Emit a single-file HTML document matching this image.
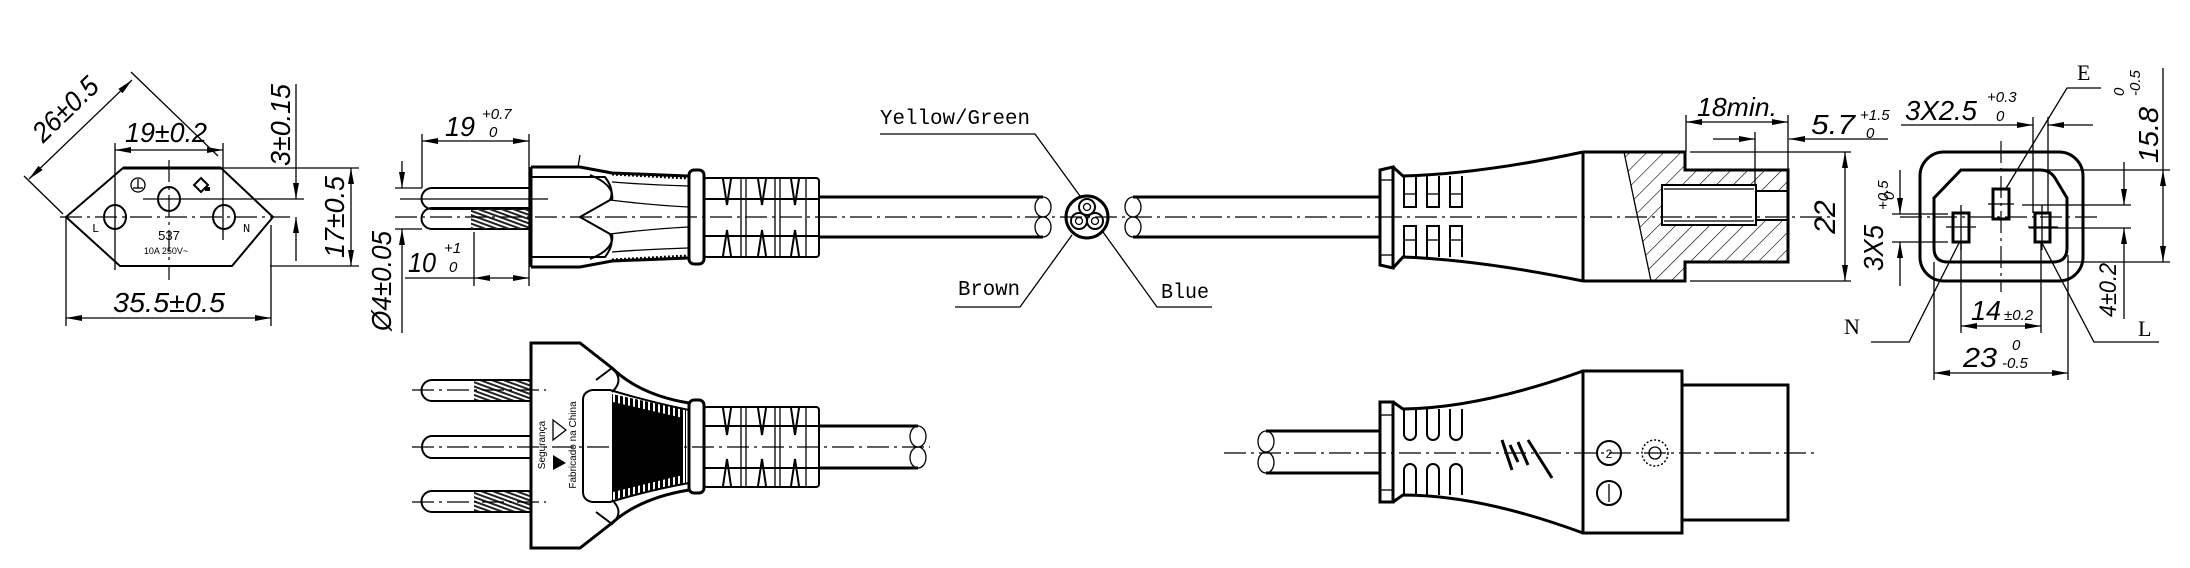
<!DOCTYPE html>
<html><head><meta charset="utf-8"><style>
html,body{margin:0;padding:0;background:#fff;}
svg{display:block}
.t{stroke:#000;stroke-width:1.3;fill:none}
.k{stroke:#000;stroke-width:3;fill:none}
.m{stroke:#000;stroke-width:2;fill:none}
.c{stroke:#000;stroke-width:1.2;fill:none;stroke-dasharray:22 5 3 5}
.d{font-family:"Liberation Sans",sans-serif;font-style:italic;fill:#000}
.s{font-family:"Liberation Sans",sans-serif;font-style:italic;fill:#000;font-size:15px}
.l{font-family:"Liberation Mono",monospace;fill:#000;font-size:21px}
</style></head><body>
<svg width="2190" height="568" viewBox="0 0 2190 568" xmlns="http://www.w3.org/2000/svg">
<defs>
<marker id="a" viewBox="0 0 16 6" refX="16" refY="3" markerWidth="16" markerHeight="6" markerUnits="userSpaceOnUse" orient="auto-start-reverse"><path d="M0,0 L16,3 L0,6Z" fill="#000"/></marker>
<pattern id="h" width="12" height="12" patternUnits="userSpaceOnUse" patternTransform="rotate(45)"><line x1="0" y1="0" x2="0" y2="12" stroke="#000" stroke-width="1.2"/></pattern>
<pattern id="v" width="5" height="10" patternUnits="userSpaceOnUse"><rect x="0" y="0" width="3" height="10" fill="#000"/></pattern>
<pattern id="p" width="4" height="4" patternUnits="userSpaceOnUse" patternTransform="rotate(20)"><rect width="4" height="2" fill="#222"/></pattern>
</defs>

<!-- ===== Socket face (left) ===== -->
<polygon points="123,168 221,168 273,217 232,266 120,266 66,217" class="m"/>
<line x1="123" y1="168" x2="221" y2="168" class="k"/>
<ellipse cx="115" cy="217" rx="11" ry="12" class="m"/>
<ellipse cx="169" cy="199" rx="11" ry="12" class="m"/>
<ellipse cx="224" cy="217" rx="11" ry="12" class="m"/>
<line x1="60" y1="217" x2="290" y2="217" class="c"/>
<line x1="143" y1="199" x2="304" y2="199" class="t"/>
<line x1="169" y1="160" x2="169" y2="280" class="c"/>
<line x1="115" y1="143" x2="115" y2="270" class="t"/>
<line x1="223" y1="143" x2="223" y2="240" class="t"/>
<text x="92" y="232" font-family="Liberation Mono" font-size="12">L</text>
<text x="243" y="232" font-family="Liberation Mono" font-size="12">N</text>
<text x="169" y="240" text-anchor="middle" font-family="Liberation Sans" font-size="13">537</text>
<text x="166" y="254" text-anchor="middle" font-family="Liberation Sans" font-size="9">10A 250V~</text>
<circle cx="138" cy="185" r="7" class="t"/><line x1="138" y1="179" x2="138" y2="188" class="t"/><line x1="133" y1="188" x2="143" y2="188" class="t"/>
<path d="M201,178 L208,185 L201,192 L194,185Z" class="m"/><rect x="205" y="187" width="5" height="4" fill="#000"/>
<!-- 26 dim -->
<line x1="63" y1="214" x2="24" y2="176" class="t"/>
<line x1="218" y1="156" x2="131" y2="72" class="t"/>
<line x1="29" y1="179" x2="132" y2="80" class="t" marker-start="url(#a)" marker-end="url(#a)"/>
<text x="72" y="116" text-anchor="middle" class="d" font-size="28" transform="rotate(-44 72 116)" textLength="80" lengthAdjust="spacingAndGlyphs">26±0.5</text>
<!-- 19 dim -->
<line x1="115" y1="150" x2="223" y2="150" class="t" marker-start="url(#a)" marker-end="url(#a)"/>
<text x="166" y="142" text-anchor="middle" class="d" font-size="28" textLength="82" lengthAdjust="spacingAndGlyphs">19±0.2</text>
<!-- 3 dim -->
<line x1="296" y1="84" x2="296" y2="199" class="t" marker-end="url(#a)"/>
<line x1="296" y1="261" x2="296" y2="217" class="t" marker-end="url(#a)"/>
<text x="290" y="125" text-anchor="middle" class="d" font-size="28" transform="rotate(-90 290 125)" textLength="82" lengthAdjust="spacingAndGlyphs">3±0.15</text>
<!-- 17 dim -->
<line x1="221" y1="168" x2="359" y2="168" class="t"/>
<line x1="270" y1="266" x2="359" y2="266" class="t"/>
<line x1="351" y1="168" x2="351" y2="266" class="t" marker-start="url(#a)" marker-end="url(#a)"/>
<text x="344" y="217" text-anchor="middle" class="d" font-size="28" transform="rotate(-90 344 217)" textLength="82" lengthAdjust="spacingAndGlyphs">17±0.5</text>
<!-- 35.5 dim -->
<line x1="66" y1="217" x2="66" y2="326" class="t"/>
<line x1="271" y1="225" x2="271" y2="326" class="t"/>
<line x1="66" y1="318" x2="271" y2="318" class="t" marker-start="url(#a)" marker-end="url(#a)"/>
<text x="169" y="312" text-anchor="middle" class="d" font-size="28" textLength="112" lengthAdjust="spacingAndGlyphs">35.5±0.5</text>

<!-- ===== Plug side view (top) ===== -->
<path d="M432,188 L531,188 L531,209 L432,209 A10,10 0 0 1 432,188Z" class="m"/>
<path d="M432,208 L531,208 L531,229 L432,229 A10,10 0 0 1 432,208Z" class="m"/>
<rect x="471" y="209" width="60" height="20" fill="url(#p)"/>
<line x1="395" y1="188" x2="422" y2="188" class="t"/>
<line x1="395" y1="229" x2="422" y2="229" class="t"/>
<line x1="400" y1="199" x2="548" y2="199" class="t"/>
<line x1="395" y1="217" x2="1380" y2="217" class="c"/>
<!-- Ø4 -->
<line x1="402" y1="161" x2="402" y2="188" class="t" marker-end="url(#a)"/>
<line x1="402" y1="333" x2="402" y2="229" class="t" marker-end="url(#a)"/>
<text x="391" y="281" text-anchor="middle" class="d" font-size="28" transform="rotate(-90 391 281)" textLength="100" lengthAdjust="spacingAndGlyphs">Ø4±0.05</text>
<!-- 19 +0.7 -->
<line x1="422" y1="134" x2="422" y2="188" class="t"/>
<line x1="529" y1="134" x2="529" y2="286" class="t"/>
<line x1="422" y1="141" x2="529" y2="141" class="t" marker-start="url(#a)" marker-end="url(#a)"/>
<text x="460" y="136" text-anchor="middle" class="d" font-size="28" textLength="30" lengthAdjust="spacingAndGlyphs">19</text>
<text x="482" y="119" class="s">+0.7</text><text x="489" y="137" class="s">0</text>
<!-- 10 +1 -->
<line x1="474" y1="232" x2="474" y2="286" class="t"/>
<line x1="405" y1="278" x2="474" y2="278" class="t"/>
<line x1="474" y1="278" x2="529" y2="278" class="t" marker-start="url(#a)" marker-end="url(#a)"/>
<text x="422" y="272" text-anchor="middle" class="d" font-size="28" textLength="28" lengthAdjust="spacingAndGlyphs">10</text>
<text x="444" y="253" class="s">+1</text><text x="449" y="272" class="s">0</text>
<!-- body -->
<path d="M531,167 L580,167 L612,173 L688,176 M531,267 L580,267 L612,261 L688,258" class="k"/>
<line x1="531" y1="167" x2="531" y2="267" class="k"/>
<path d="M531,177 L605,177 Q615,190 610,200 L580,217 L610,234 Q615,244 605,257 L531,257" class="m"/>
<path d="M590,175 Q615,185 612,200 M590,259 Q615,249 612,234" class="m"/>
<path d="M610,200 Q650,205 688,207 M610,234 Q650,229 688,227 M612,182 Q650,185 688,186 M612,252 Q650,249 688,248" class="t"/>
<path d="M612,174 L688,178 M612,260 L688,256" stroke="#000" stroke-width="3" stroke-dasharray="2 2" fill="none"/>
<line x1="580" y1="155" x2="578" y2="167" class="t"/>
<rect x="689" y="170" width="15" height="94" rx="5" class="k"/>
<rect x="704" y="178" width="115" height="79" rx="3" class="m"/>
<line x1="704" y1="199" x2="818" y2="199" class="m"/><line x1="704" y1="236" x2="818" y2="236" class="m"/>
<path d="M723,179 L727,205 L731,179 M723,256 L727,230 L731,256 M758,179 L762,205 L766,179 M758,256 L762,230 L766,256 M791,179 L795,205 L799,179 M791,256 L795,230 L799,256" class="m"/>
<line x1="741" y1="179" x2="741" y2="256" class="t"/><line x1="746" y1="179" x2="746" y2="256" class="t"/>
<line x1="775" y1="179" x2="775" y2="256" class="t"/><line x1="780" y1="179" x2="780" y2="256" class="t"/>
<line x1="806" y1="179" x2="806" y2="256" class="t"/>
<!-- cable -->
<line x1="818" y1="197" x2="1043" y2="197" class="k"/>
<line x1="818" y1="237" x2="1043" y2="237" class="k"/>
<path d="M1043,197 A8,10 0 0 1 1043,217 A8,10 0 0 0 1043,237 M1043,197 A8,10 0 0 0 1043,217 A8,10 0 0 1 1043,237" class="t"/>
<line x1="1133" y1="197" x2="1380" y2="197" class="k"/>
<line x1="1133" y1="237" x2="1380" y2="237" class="k"/>
<path d="M1133,197 A8,10 0 0 0 1133,217 A8,10 0 0 1 1133,237 M1133,197 A8,10 0 0 1 1133,217 A8,10 0 0 0 1133,237" class="t"/>
<!-- cross section -->
<circle cx="1087" cy="217" r="21" class="k"/>
<circle cx="1087" cy="207" r="8" class="m"/><circle cx="1087" cy="207" r="3.5" class="t"/>
<circle cx="1079" cy="221" r="8" class="m"/><circle cx="1079" cy="221" r="3.5" class="t"/>
<circle cx="1095" cy="221" r="8" class="m"/><circle cx="1095" cy="221" r="3.5" class="t"/>
<text x="880" y="124" class="l" textLength="150" lengthAdjust="spacingAndGlyphs">Yellow/Green</text>
<polyline points="880,134 1035,134 1080,196" class="t"/>
<text x="958" y="295" class="l" textLength="62" lengthAdjust="spacingAndGlyphs">Brown</text>
<polyline points="955,307 1020,307 1072,235" class="t"/>
<text x="1161" y="298" class="l" textLength="48" lengthAdjust="spacingAndGlyphs">Blue</text>
<polyline points="1212,307 1157,307 1103,232" class="t"/>

<!-- ===== Connector side (top right) ===== -->
<path d="M1380,170 L1380,265 L1393,268 L1393,167 Z" class="k"/>
<line x1="1380" y1="180" x2="1393" y2="180" class="t"/><line x1="1380" y1="255" x2="1393" y2="255" class="t"/>
<path d="M1393,167 L1403,176 Q1480,174 1583,152 M1393,268 L1403,257 Q1480,260 1583,281" class="k"/>
<path d="M1404,176 V207 H1416 V176 M1427,176 V207 H1439 V176 M1450,176 V207 H1462 V176 M1404,257 V226 H1416 V257 M1427,257 V226 H1439 V257 M1450,257 V226 H1462 V257" class="m"/>
<line x1="1404" y1="194" x2="1416" y2="194" class="t"/><line x1="1427" y1="194" x2="1439" y2="194" class="t"/><line x1="1450" y1="194" x2="1462" y2="194" class="t"/>
<line x1="1404" y1="240" x2="1416" y2="240" class="t"/><line x1="1427" y1="240" x2="1439" y2="240" class="t"/><line x1="1450" y1="240" x2="1462" y2="240" class="t"/>
<polygon points="1624,152 1685,152 1685,170 1788,170 1788,262 1685,262 1685,281 1651,281" fill="url(#h)"/>
<line x1="1624" y1="152" x2="1651" y2="281" class="t"/>
<rect x="1662" y="185" width="94" height="40" style="fill:#fff;stroke:#000;stroke-width:2"/>
<line x1="1664" y1="189" x2="1754" y2="189" class="t"/><line x1="1664" y1="221" x2="1754" y2="221" class="t"/>
<rect x="1756" y="191" width="32" height="29" style="fill:#fff;stroke:#000;stroke-width:2"/>
<path d="M1583,152 L1583,281 M1583,152 L1685,152 L1685,170 L1788,170 L1788,262 L1685,262 L1685,281 L1583,281" class="k"/>
<line x1="1380" y1="217" x2="1830" y2="217" class="c"/>
<!-- 18min -->
<line x1="1686" y1="115" x2="1686" y2="152" class="t"/>
<line x1="1788" y1="115" x2="1788" y2="170" class="t"/>
<line x1="1686" y1="122" x2="1788" y2="122" class="t" marker-start="url(#a)" marker-end="url(#a)"/>
<text x="1737" y="116" text-anchor="middle" class="d" font-size="26" textLength="80" lengthAdjust="spacingAndGlyphs">18min.</text>
<!-- 5.7 -->
<line x1="1755" y1="132" x2="1755" y2="185" class="t"/>
<line x1="1713" y1="139" x2="1755" y2="139" class="t" marker-end="url(#a)"/>
<line x1="1888" y1="139" x2="1789" y2="139" class="t" marker-end="url(#a)"/>
<text x="1833" y="134" text-anchor="middle" class="d" font-size="28" textLength="44" lengthAdjust="spacingAndGlyphs">5.7</text>
<text x="1860" y="120" class="s">+1.5</text><text x="1866" y="138" class="s">0</text>
<!-- 22 -->
<line x1="1690" y1="152" x2="1851" y2="152" class="t"/>
<line x1="1690" y1="281" x2="1851" y2="281" class="t"/>
<line x1="1845" y1="152" x2="1845" y2="281" class="t" marker-start="url(#a)" marker-end="url(#a)"/>
<text x="1835" y="217" text-anchor="middle" class="d" font-size="30" transform="rotate(-90 1835 217)">22</text>

<!-- ===== Socket front (right) ===== -->
<rect x="1920" y="152" width="163" height="129" rx="24" class="k"/>
<path d="M1961,170 L2040,170 Q2050,170 2055,178 L2067,198 L2067,248 Q2067,262 2053,262 L1948,262 Q1934,262 1934,248 L1934,198 Z" class="k"/>
<rect x="1993" y="189" width="16" height="30" class="k"/>
<rect x="1953" y="213" width="16" height="29" class="k"/>
<rect x="2035" y="213" width="15" height="29" class="k"/>
<line x1="2001" y1="141" x2="2001" y2="292" class="c"/>
<line x1="1900" y1="217" x2="2100" y2="217" class="c"/>
<line x1="1988" y1="204" x2="2014" y2="204" class="t"/>
<line x1="1946" y1="227" x2="1976" y2="227" class="t"/><line x1="1961" y1="205" x2="1961" y2="250" class="t"/>
<line x1="2028" y1="227" x2="2058" y2="227" class="t"/><line x1="2042" y1="205" x2="2042" y2="250" class="t"/>
<!-- E N L -->
<text x="2077" y="80" font-family="Liberation Serif" font-size="22">E</text>
<polyline points="2101,88 2067,88 2005,190" class="t"/>
<text x="1844" y="334" font-family="Liberation Serif" font-size="22">N</text>
<polyline points="1871,342 1909,342 1959,243" class="t"/>
<text x="2138" y="336" font-family="Liberation Serif" font-size="22">L</text>
<polyline points="2159,342 2094,342 2042,243" class="t"/>
<!-- 3X2.5 -->
<line x1="2033" y1="117" x2="2033" y2="213" class="t"/>
<line x1="2048" y1="117" x2="2048" y2="213" class="t"/>
<line x1="1901" y1="125" x2="2033" y2="125" class="t" marker-end="url(#a)"/>
<line x1="2093" y1="125" x2="2048" y2="125" class="t" marker-end="url(#a)"/>
<text x="1941" y="120" text-anchor="middle" class="d" font-size="28" textLength="72" lengthAdjust="spacingAndGlyphs">3X2.5</text>
<text x="1987" y="102" class="s">+0.3</text><text x="1996" y="121" class="s">0</text>
<!-- 15.8 -->
<line x1="2038" y1="170" x2="2170" y2="170" class="t"/>
<line x1="2067" y1="262" x2="2170" y2="262" class="t"/>
<line x1="2163" y1="68" x2="2163" y2="170" class="t"/>
<line x1="2163" y1="170" x2="2163" y2="262" class="t" marker-start="url(#a)" marker-end="url(#a)"/>
<text x="2158" y="135" text-anchor="middle" class="d" font-size="28" transform="rotate(-90 2158 135)" textLength="56" lengthAdjust="spacingAndGlyphs">15.8</text>
<text x="2140" y="96" class="s" transform="rotate(-90 2140 96)">-0.5</text>
<text x="2124" y="96" class="s" transform="rotate(-90 2124 96)">0</text>
<!-- 4±0.2 -->
<line x1="2022" y1="205" x2="2131" y2="205" class="t"/>
<line x1="2029" y1="228" x2="2131" y2="228" class="t"/>
<line x1="2124" y1="162" x2="2124" y2="205" class="t" marker-end="url(#a)"/>
<line x1="2124" y1="319" x2="2124" y2="228" class="t" marker-end="url(#a)"/>
<text x="2116" y="290" text-anchor="middle" class="d" font-size="24" transform="rotate(-90 2116 290)" textLength="54" lengthAdjust="spacingAndGlyphs">4±0.2</text>
<!-- 3X5 -->
<line x1="1892" y1="214" x2="1948" y2="214" class="t"/>
<line x1="1892" y1="242" x2="1948" y2="242" class="t"/>
<line x1="1900" y1="170" x2="1900" y2="214" class="t" marker-end="url(#a)"/>
<line x1="1900" y1="286" x2="1900" y2="242" class="t" marker-end="url(#a)"/>
<text x="1883" y="248" text-anchor="middle" class="d" font-size="28" transform="rotate(-90 1883 248)" textLength="46" lengthAdjust="spacingAndGlyphs">3X5</text>
<text x="1888" y="210" class="s" transform="rotate(-90 1888 210)">+0.5</text>
<text x="1894" y="200" class="s" transform="rotate(-90 1894 200)">0</text>
<!-- 14 -->
<line x1="1961" y1="243" x2="1961" y2="333" class="t"/>
<line x1="2041" y1="243" x2="2041" y2="333" class="t"/>
<line x1="1961" y1="326" x2="2041" y2="326" class="t" marker-start="url(#a)" marker-end="url(#a)"/>
<text x="1986" y="320" text-anchor="middle" class="d" font-size="28" textLength="30" lengthAdjust="spacingAndGlyphs">14</text>
<text x="2004" y="320" class="s">±0.2</text>
<!-- 23 -->
<line x1="1934" y1="262" x2="1934" y2="380" class="t"/>
<line x1="2068" y1="255" x2="2068" y2="380" class="t"/>
<line x1="1934" y1="373" x2="2068" y2="373" class="t" marker-start="url(#a)" marker-end="url(#a)"/>
<text x="1980" y="367" text-anchor="middle" class="d" font-size="28" textLength="34" lengthAdjust="spacingAndGlyphs">23</text>
<text x="2012" y="350" class="s">0</text><text x="2002" y="368" class="s">-0.5</text>

<!-- ===== Plug front (bottom) ===== -->
<path d="M432,380 L531,380 L531,401 L432,401 A10,10 0 0 1 432,380Z" class="m"/>
<path d="M432,436 L531,436 L531,458 L432,458 A10,11 0 0 1 432,436Z" class="m"/>
<path d="M432,491 L531,491 L531,512 L432,512 A10,10 0 0 1 432,491Z" class="m"/>
<rect x="474" y="381" width="57" height="19" fill="url(#p)"/>
<rect x="474" y="492" width="57" height="19" fill="url(#p)"/>
<line x1="412" y1="390" x2="546" y2="390" class="c"/>
<line x1="412" y1="447" x2="930" y2="447" class="c"/>
<line x1="412" y1="502" x2="546" y2="502" class="c"/>
<path d="M531,343 L580,343 L612,368 Q640,395 689,403 L689,490 Q640,498 612,523 L580,548 L531,548 Z" class="k"/>
<path d="M596,380 L612,368 Q625,380 612,392 M596,512 L612,524 Q625,512 612,500" class="m"/>
<path d="M592,390 L610,390 Q650,402 689,410 M592,502 L610,502 Q650,490 689,483" class="m"/>
<path d="M592,390 Q583,392 583,400 L583,492 Q583,500 592,502" class="m"/>
<polygon points="612,394 686,410 686,484 612,500" fill="url(#v)"/>
<polygon points="613,402 683,418 683,475 613,492" fill="#000"/>
<text transform="translate(545,445) rotate(-90)" font-family="Liberation Sans" font-size="10" text-anchor="middle">Segurança</text>
<text transform="translate(576,445) rotate(-90)" font-family="Liberation Sans" font-size="10" text-anchor="middle">Fabricado na China</text>
<path d="M553,420 L566,430 L553,440 Z" class="t"/>
<path d="M553,455 L566,463 L553,470 Z" fill="#000"/>
<rect x="689" y="400" width="15" height="93" rx="5" class="k"/>
<rect x="704" y="407" width="115" height="80" rx="3" class="m"/>
<line x1="704" y1="426" x2="818" y2="426" class="m"/><line x1="704" y1="468" x2="818" y2="468" class="m"/>
<path d="M723,408 L727,435 L731,408 M723,486 L727,459 L731,486 M758,408 L762,435 L766,408 M758,486 L762,459 L766,486 M791,408 L795,435 L799,408 M791,486 L795,459 L799,486" class="m"/>
<line x1="741" y1="408" x2="741" y2="486" class="t"/><line x1="746" y1="408" x2="746" y2="486" class="t"/>
<line x1="775" y1="408" x2="775" y2="486" class="t"/><line x1="780" y1="408" x2="780" y2="486" class="t"/>
<line x1="806" y1="408" x2="806" y2="486" class="t"/>
<line x1="818" y1="426" x2="918" y2="426" class="k"/>
<line x1="818" y1="468" x2="918" y2="468" class="k"/>
<path d="M918,426 A8,10.5 0 0 1 918,447 A8,10.5 0 0 0 918,468 M918,426 A8,10.5 0 0 0 918,447 A8,10.5 0 0 1 918,468" class="t"/>

<!-- ===== Connector top view (bottom right) ===== -->
<line x1="1266" y1="431" x2="1380" y2="431" class="k"/>
<line x1="1266" y1="473" x2="1380" y2="473" class="k"/>
<path d="M1266,431 A8,10.5 0 0 0 1266,452 A8,10.5 0 0 1 1266,473 M1266,431 A8,10.5 0 0 1 1266,452 A8,10.5 0 0 0 1266,473" class="t"/>
<line x1="1224" y1="453" x2="1815" y2="453" class="c"/>
<path d="M1380,402 L1380,502 L1393,502 L1393,402 Z" class="k"/>
<line x1="1380" y1="415" x2="1393" y2="415" class="t"/><line x1="1380" y1="490" x2="1393" y2="490" class="t"/>
<path d="M1393,402 L1403,409 Q1480,408 1583,371 M1393,502 L1403,495 Q1480,495 1583,533" class="k"/>
<path d="M1404,409 V434 A6,6 0 0 0 1416,434 V409 M1427,409 V434 A6,6 0 0 0 1439,434 V409 M1450,409 V434 A6,6 0 0 0 1462,434 V409 M1404,495 V470 A6,6 0 0 1 1416,470 V495 M1427,495 V470 A6,6 0 0 1 1439,470 V495 M1450,495 V470 A6,6 0 0 1 1462,470 V495" class="m"/>
<path d="M1502,440 L1512,470 M1510,445 L1518,462 M1518,442 L1528,465 M1528,440 L1552,478" class="k"/>
<path d="M1583,371 L1682,371 L1682,533 L1583,533 Z" class="k"/>
<path d="M1682,385 L1788,385 L1788,520 L1682,520" class="k"/>
<circle cx="1609" cy="453" r="12" class="m"/><text x="1609" y="458" text-anchor="middle" font-family="Liberation Sans" font-size="12">2</text>
<circle cx="1655" cy="453" r="13" fill="none" stroke="#000" stroke-width="1.5" stroke-dasharray="2 2"/><circle cx="1655" cy="453" r="6" class="t"/>
<circle cx="1609" cy="493" r="12" class="m"/><line x1="1609" y1="484" x2="1609" y2="502" class="t"/>
</svg>
</body></html>
